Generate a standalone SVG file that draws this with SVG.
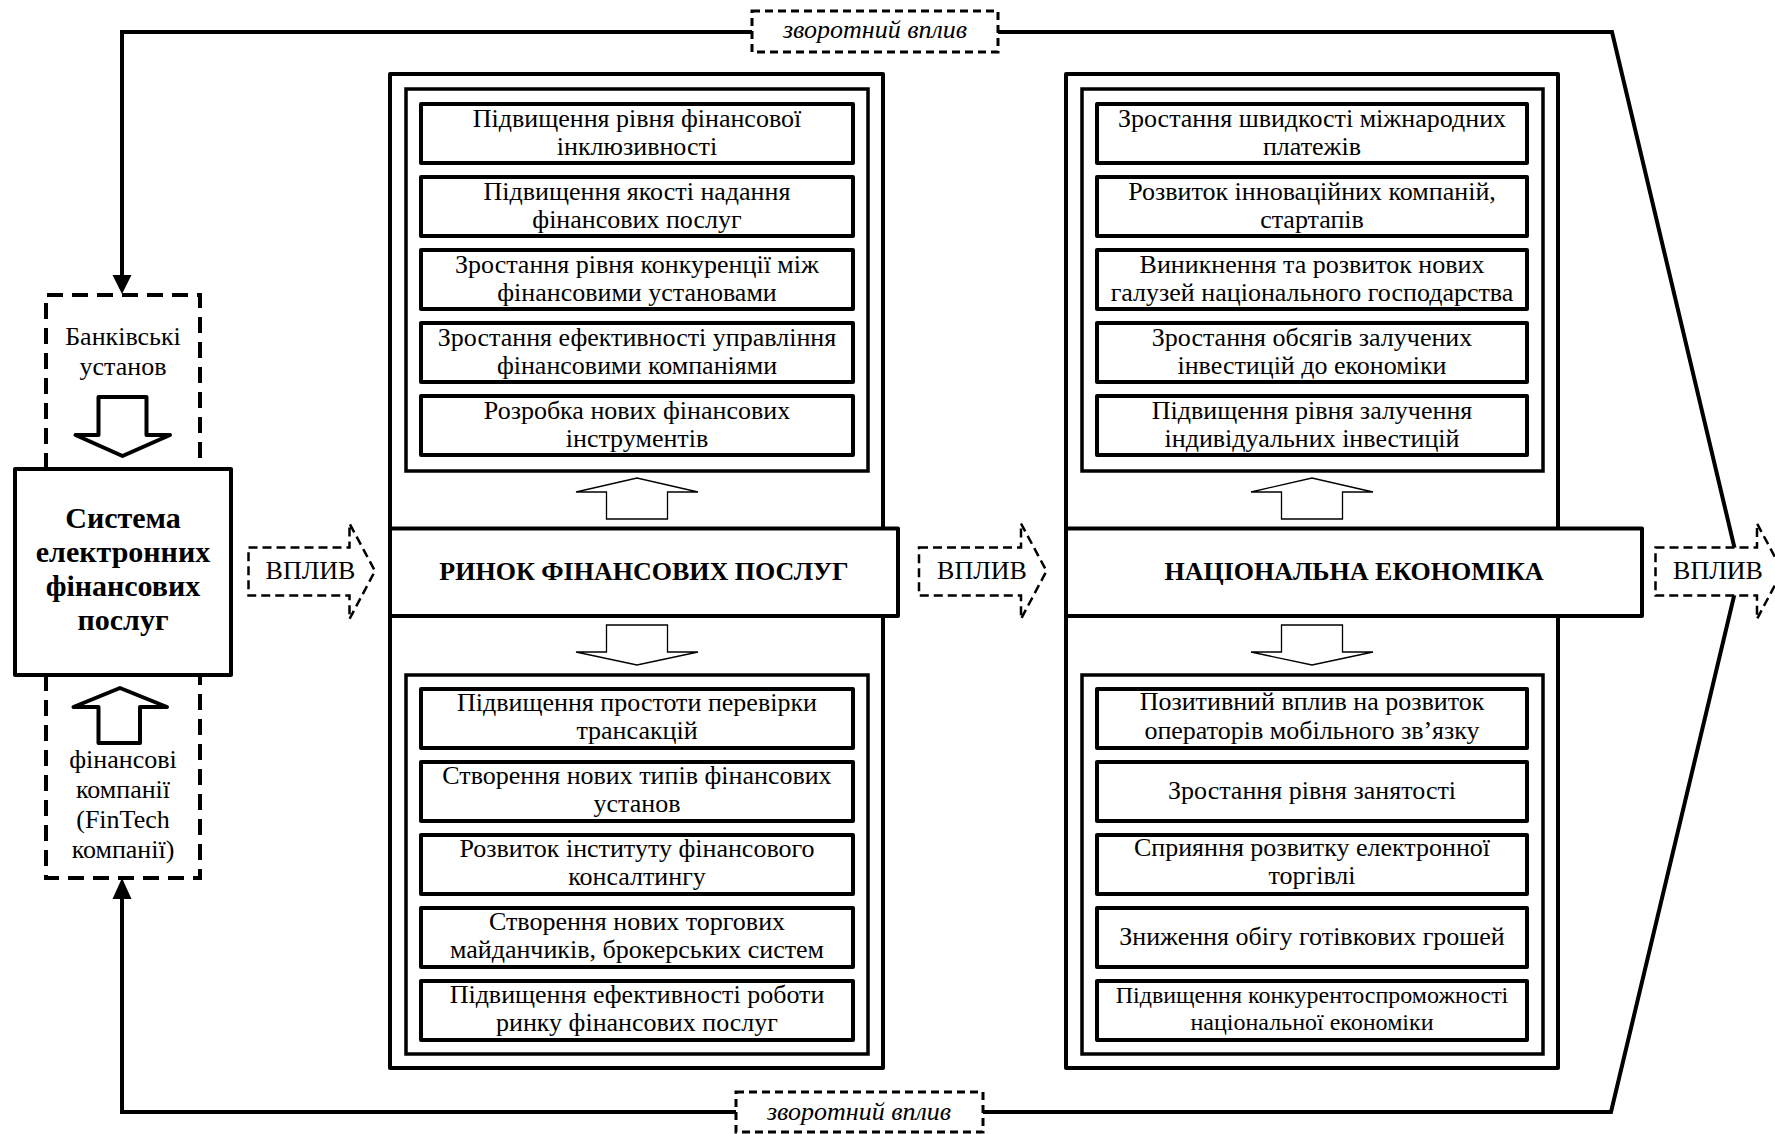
<svg xmlns="http://www.w3.org/2000/svg" width="1775" height="1134" viewBox="0 0 1775 1134">
<style>
text{font-family:"Liberation Serif","Times New Roman",serif;font-size:26px;fill:#000;text-anchor:middle}
.b{font-weight:bold}
.it{font-style:italic}
.sm{font-size:24px}
.box{fill:#fff;stroke:#000;stroke-width:4;stroke-linejoin:round}
.inner{fill:#fff;stroke:#000;stroke-width:3.5}
.item{fill:#fff;stroke:#000;stroke-width:4;stroke-linejoin:round}
.thin{fill:#fff;stroke:#000;stroke-width:1.3}
.blk{fill:#fff;stroke:#000;stroke-width:4;stroke-linejoin:round}
.dbox{fill:none;stroke:#000;stroke-width:4;stroke-dasharray:16 9}
.darr{fill:#fff;stroke:#000;stroke-width:2.5;stroke-dasharray:9 5}
.lbl{fill:#fff;stroke:#000;stroke-width:3;stroke-dasharray:8 5}
.line{fill:none;stroke:#000;stroke-width:4;stroke-linejoin:miter}
</style>

<g id="connectors">
  <path class="line" d="M122,276 V32 H752"/>
  <path class="line" d="M998,32 H1612 L1740,571 L1611,1112 H983"/>
  <path class="line" d="M736,1112 H122 V899"/>
  <polygon points="122,294 112.5,275 131.5,275" fill="#000"/>
  <polygon points="122,878 112.5,899 131.5,899" fill="#000"/>
  <g id="feedback-top">
    <rect class="lbl" x="752" y="11" width="246" height="41"/>
    <text class="it" x="875" y="38">зворотний вплив</text>
  </g>
  <g id="feedback-bottom">
    <rect class="lbl" x="736" y="1092" width="247" height="40"/>
    <text class="it" x="859" y="1120">зворотний вплив</text>
  </g>
</g>

<g id="banks">
  <path class="dbox" d="M46,469 V295 H200 V469"/>
  <text x="123" y="345">Банківські</text>
  <text x="123" y="375">установ</text>
  <path class="blk" d="M98.5,397 H146.5 V435 H170 L122.5,456 L75.5,435 H98.5 Z"/>
</g>

<g id="fintech">
  <path class="dbox" d="M46,675 V878 H200 V675"/>
  <path class="blk" d="M98.5,743 H140 V707 H167 L120,688 L73.5,707 H98.5 Z"/>
  <text x="123" y="768">фінансові</text>
  <text x="123" y="798">компанії</text>
  <text x="123" y="828">(FinTech</text>
  <text x="123" y="858">компанії)</text>
</g>

<g id="system">
  <rect class="box" x="15" y="469" width="216" height="206"/>
  <text class="b" x="123" y="528" style="font-size:30px">Система</text>
  <text class="b" x="123" y="562" style="font-size:30px">електронних</text>
  <text class="b" x="123" y="596" style="font-size:30px">фінансових</text>
  <text class="b" x="123" y="630" style="font-size:30px">послуг</text>
</g>

<g id="vplyv-1">
  <path class="darr" d="M248.5,547.5 H349.5 V523.5 L375,571 L349.5,619 V595.5 H248.5 Z"/>
  <text x="310.5" y="579">ВПЛИВ</text>
</g>

<g id="market">
  <rect class="box" x="390" y="74" width="493" height="994"/>
  <rect class="inner" x="406" y="89" width="462" height="382"/>
  <rect class="inner" x="406" y="675" width="462" height="379"/>
  <g id="m-u1"><rect class="item" x="421" y="104" width="432" height="59"/><text x="637" y="126.5">Підвищення рівня фінансової</text><text x="637" y="154.5">інклюзивності</text></g>
  <g id="m-u2"><rect class="item" x="421" y="177" width="432" height="59"/><text x="637" y="199.5">Підвищення якості надання</text><text x="637" y="227.5">фінансових послуг</text></g>
  <g id="m-u3"><rect class="item" x="421" y="250" width="432" height="59"/><text x="637" y="272.5">Зростання рівня конкуренції між</text><text x="637" y="300.5">фінансовими установами</text></g>
  <g id="m-u4"><rect class="item" x="421" y="323" width="432" height="59"/><text x="637" y="345.5">Зростання ефективності управління</text><text x="637" y="373.5">фінансовими компаніями</text></g>
  <g id="m-u5"><rect class="item" x="421" y="396" width="432" height="59"/><text x="637" y="418.5">Розробка нових фінансових</text><text x="637" y="446.5">інструментів</text></g>
  <path class="thin" d="M606.5,519 H667.5 V492 H698 L637,478 L576,492 H606.5 Z"/>
  <path class="thin" d="M606.5,625 H667.5 V652 H698 L637,665 L576,652 H606.5 Z"/>
  <g id="m-l1"><rect class="item" x="421" y="689" width="432" height="59"/><text x="637" y="711">Підвищення простоти перевірки</text><text x="637" y="739">трансакцій</text></g>
  <g id="m-l2"><rect class="item" x="421" y="762" width="432" height="59"/><text x="637" y="784">Створення нових типів фінансових</text><text x="637" y="812">установ</text></g>
  <g id="m-l3"><rect class="item" x="421" y="835" width="432" height="59"/><text x="637" y="857">Розвиток інституту фінансового</text><text x="637" y="885">консалтингу</text></g>
  <g id="m-l4"><rect class="item" x="421" y="908" width="432" height="59"/><text x="637" y="930">Створення нових торгових</text><text x="637" y="958">майданчиків, брокерських систем</text></g>
  <g id="m-l5"><rect class="item" x="421" y="981" width="432" height="59"/><text x="637" y="1003">Підвищення ефективності роботи</text><text x="637" y="1031">ринку фінансових послуг</text></g>
  <g id="market-header">
    <rect class="box" x="390" y="528.5" width="508" height="87.5"/>
    <text class="b" x="644" y="580">РИНОК ФІНАНСОВИХ ПОСЛУГ</text>
  </g>
</g>

<g id="vplyv-2">
  <path class="darr" d="M919,547.5 H1021 V523.5 L1046.5,571 L1021,619 V595.5 H919 Z"/>
  <text x="982" y="579">ВПЛИВ</text>
</g>

<g id="economy">
  <rect class="box" x="1066" y="74" width="492" height="994"/>
  <rect class="inner" x="1082" y="89" width="461" height="382"/>
  <rect class="inner" x="1082" y="675" width="461" height="379"/>
  <g id="e-u1"><rect class="item" x="1097" y="104" width="430" height="59"/><text x="1312" y="126.5">Зростання швидкості міжнародних</text><text x="1312" y="154.5">платежів</text></g>
  <g id="e-u2"><rect class="item" x="1097" y="177" width="430" height="59"/><text x="1312" y="199.5">Розвиток інноваційних компаній,</text><text x="1312" y="227.5">стартапів</text></g>
  <g id="e-u3"><rect class="item" x="1097" y="250" width="430" height="59"/><text x="1312" y="272.5">Виникнення та розвиток нових</text><text x="1312" y="300.5">галузей національного господарства</text></g>
  <g id="e-u4"><rect class="item" x="1097" y="323" width="430" height="59"/><text x="1312" y="345.5">Зростання обсягів залучених</text><text x="1312" y="373.5">інвестицій до економіки</text></g>
  <g id="e-u5"><rect class="item" x="1097" y="396" width="430" height="59"/><text x="1312" y="418.5">Підвищення рівня залучення</text><text x="1312" y="446.5">індивідуальних інвестицій</text></g>
  <path class="thin" d="M1281.5,519 H1342.5 V492 H1373 L1312,478 L1251,492 H1281.5 Z"/>
  <path class="thin" d="M1281.5,625 H1342.5 V652 H1373 L1312,665 L1251,652 H1281.5 Z"/>
  <g id="e-l1"><rect class="item" x="1097" y="689" width="430" height="59"/><text x="1312" y="710">Позитивний вплив на розвиток</text><text x="1312" y="739">операторів мобільного зв’язку</text></g>
  <g id="e-l2"><rect class="item" x="1097" y="762" width="430" height="59"/><text x="1312" y="799">Зростання рівня занятості</text></g>
  <g id="e-l3"><rect class="item" x="1097" y="835" width="430" height="59"/><text x="1312" y="856">Сприяння розвитку електронної</text><text x="1312" y="884">торгівлі</text></g>
  <g id="e-l4"><rect class="item" x="1097" y="908" width="430" height="59"/><text x="1312" y="945">Зниження обігу готівкових грошей</text></g>
  <g id="e-l5"><rect class="item" x="1097" y="981" width="430" height="59"/><text class="sm" x="1312" y="1003">Підвищення конкурентоспроможності</text><text class="sm" x="1312" y="1030">національної економіки</text></g>
  <g id="economy-header">
    <rect class="box" x="1066" y="528.5" width="576" height="87.5"/>
    <text class="b" x="1354" y="580">НАЦІОНАЛЬНА ЕКОНОМІКА</text>
  </g>
</g>

<g id="vplyv-3">
  <path class="darr" d="M1655.5,547.5 H1757 V523.5 L1782.5,571 L1757,619 V595.5 H1655.5 Z"/>
  <text x="1718" y="579">ВПЛИВ</text>
</g>
</svg>
